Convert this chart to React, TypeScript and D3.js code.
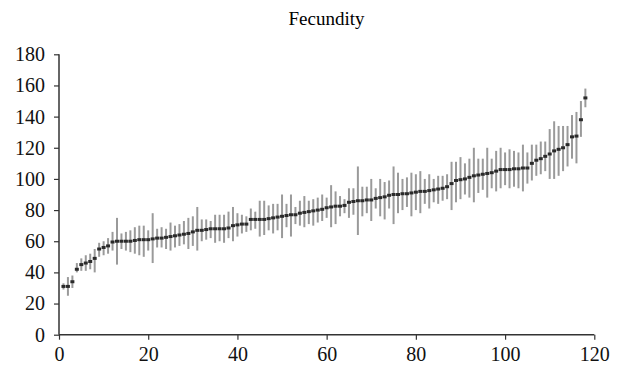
import React, { useEffect, useRef } from "react";
import * as d3 from "d3";

// Fecundity per line, sorted by mean, with error bars
const means = [
  31, 31, 34, 42, 45, 46, 47, 49, 55, 56, 57, 59.5, 60, 60, 60, 60, 60.5, 61, 61, 61,
  61.5, 62, 62, 62.5, 63, 63.5, 64, 64.5, 65, 66, 67, 67, 67.5, 68, 68, 68, 68, 68.5, 70, 70.5,
  71, 71, 74, 74, 74, 74, 74.5, 75, 75.5, 76, 76.5, 77, 77, 78, 78.5, 79, 79.5, 80, 80.5, 81.5,
  82, 82.5, 82.5, 83, 85, 85.5, 86, 86, 86.5, 86.5, 87.5, 88, 88.5, 89.5, 90, 90, 90.5, 90.5, 91, 91.5,
  92, 92, 92.5, 93, 93.5, 94, 95, 97, 99, 99.5, 100, 101, 102, 102.5, 103, 103.5, 104, 105, 106, 106,
  106, 106.5, 106.5, 107, 107, 110, 112, 113, 114.5, 116, 118, 119, 120, 122, 127, 127.5, 138, 152,
];
const lows = [
  29, 25, 30, 40, 41, 41, 42, 40, 50, 51, 52, 54, 45, 55, 54, 53, 52, 51, 50, 54,
  46, 56, 56, 55, 54, 56, 57, 58, 55, 57, 54, 60, 61, 62, 59, 60, 59, 62, 60, 63,
  65, 66, 67, 68, 63, 64, 67, 65, 67, 62, 69, 63, 71, 70, 69, 71, 70, 72, 73, 75,
  69, 71, 76, 78, 75, 77, 64, 76, 78, 73, 81, 76, 74, 81, 71, 78, 80, 82, 76, 80,
  78, 84, 81, 85, 84, 86, 87, 80, 85, 87, 90, 88, 85, 91, 93, 88, 94, 92, 94, 96,
  94, 95, 94, 92, 97, 99, 102, 103, 105, 100, 100, 102, 105, 108, 113, 110, 127, 146,
];
const highs = [
  33, 37, 38, 46, 49, 51, 52, 55, 59, 60, 62, 66, 75, 65, 66, 67, 69, 70, 70, 67,
  78, 68, 69, 68, 72, 70, 71, 73, 75, 76, 82, 74, 74, 73, 77, 77, 77, 79, 82, 78,
  77, 76, 81, 79, 86, 86, 83, 84, 84, 90, 84, 90, 82, 86, 89, 86, 87, 88, 90, 88,
  96, 92, 89, 87, 94, 94, 108, 95, 95, 100, 94, 100, 98, 99, 108, 104, 100, 101, 104, 103,
  105, 100, 103, 100, 102, 102, 103, 111, 111, 114, 110, 113, 120, 113, 113, 120, 113, 118, 120, 117,
  119, 118, 117, 122, 117, 122, 122, 124, 124, 132, 137, 134, 134, 134, 141, 143, 150, 158,
];
const xTicks = [0, 20, 40, 60, 80, 100, 120];
const yTicks = [0, 20, 40, 60, 80, 100, 120, 140, 160, 180];

const App = () => {
  const ref = useRef<SVGSVGElement | null>(null);

  useEffect(() => {
    document.body.style.margin = "0";
    const svg = d3.select(ref.current);
    svg.selectAll("*").remove();

    const width = 623;
    const height = 366;
    const font = "'Liberation Serif', 'Times New Roman', serif";

    const x = d3.scaleLinear().domain([0, 120]).range([59, 594.3]);
    const y = d3.scaleLinear().domain([0, 180]).range([334.7, 54.3]);

    const data = means.map((m, i) => ({ idx: i + 1, m, lo: lows[i], hi: highs[i] }));

    // title
    svg.append("text")
      .attr("x", 326.5)
      .attr("y", 25)
      .attr("text-anchor", "middle")
      .style("font-family", font)
      .style("font-size", "19px")
      .text("Fecundity");

    // error bars
    svg.append("g")
      .selectAll("line")
      .data(data)
      .enter()
      .append("line")
      .attr("x1", d => x(d.idx))
      .attr("x2", d => x(d.idx))
      .attr("y1", d => y(d.lo))
      .attr("y2", d => y(d.hi))
      .attr("stroke", "#9a9a9a")
      .attr("stroke-width", 2);

    // means
    svg.append("g")
      .selectAll("rect")
      .data(data)
      .enter()
      .append("rect")
      .attr("x", d => x(d.idx) - 2)
      .attr("y", d => y(d.m) - 1.5)
      .attr("width", 4)
      .attr("height", 3)
      .attr("fill", "#2a2a2a");

    // axes
    const xAxis = svg.append("g")
      .attr("transform", `translate(0,${y(0)})`)
      .call(d3.axisBottom(x).tickValues(xTicks).tickSize(5).tickPadding(7).tickFormat(d3.format("d")));
    const yAxis = svg.append("g")
      .attr("transform", `translate(${x(0)},0)`)
      .call(d3.axisLeft(y).tickValues(yTicks).tickSize(5).tickPadding(9).tickFormat(d3.format("d")));

    [xAxis, yAxis].forEach(ax => {
      ax.select(".domain").attr("stroke", "#333").attr("stroke-width", 1.5);
      ax.selectAll(".tick line").attr("stroke", "#333").attr("stroke-width", 1.2);
      ax.selectAll("text")
        .attr("fill", "#111")
        .style("font-family", font)
        .style("font-size", "20px");
    });
    xAxis.select(".domain").attr("d", `M${x(0)},0H${x(120)}`);
    yAxis.select(".domain").attr("d", `M0,${y(0)}V${y(180)}`);

    svg.attr("width", width).attr("height", height);
  }, []);

  return <svg ref={ref} width={623} height={366} style={{ display: "block" }}></svg>;
};

export default App;
